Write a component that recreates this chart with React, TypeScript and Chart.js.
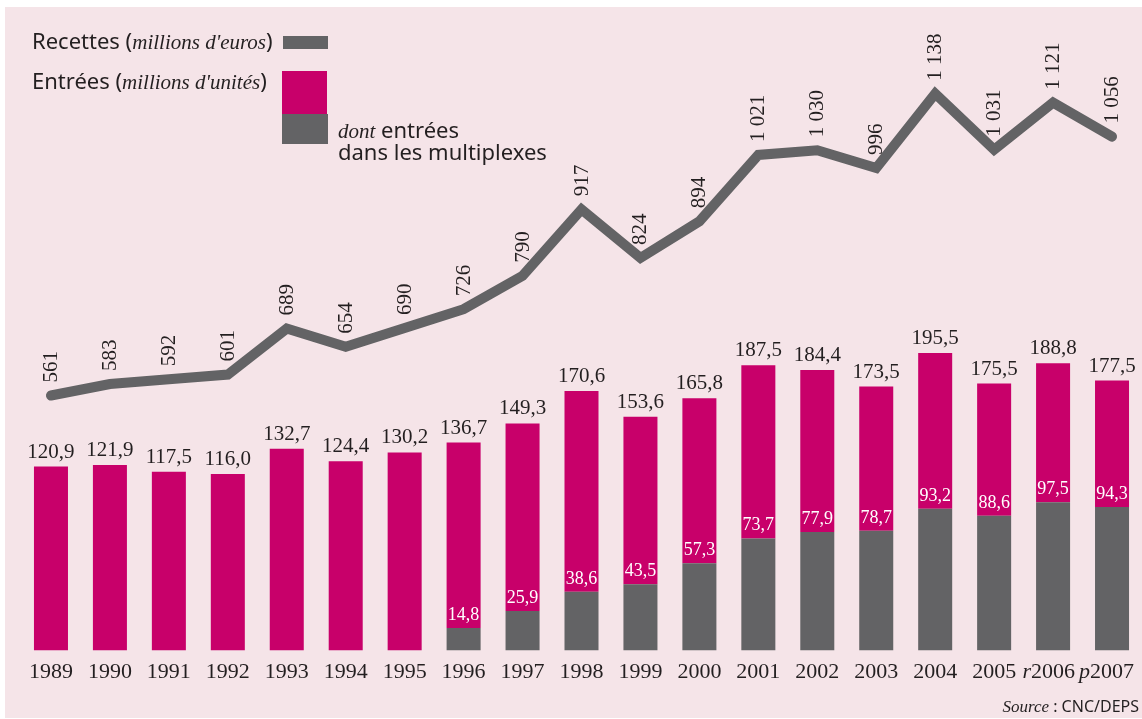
import React, { useEffect, useRef } from "react";
import { Chart, registerables } from "chart.js";

Chart.register(...registerables);

const years = ["1989","1990","1991","1992","1993","1994","1995","1996","1997","1998","1999","2000","2001","2002","2003","2004","2005","2006","2007"];
const yearPrefixes = ["","","","","","","","","","","","","","","","","","r","p"];
const recettes = [561,583,592,601,689,654,690,726,790,917,824,894,1021,1030,996,1138,1031,1121,1056];
const entrees = [120.9,121.9,117.5,116.0,132.7,124.4,130.2,136.7,149.3,170.6,153.6,165.8,187.5,184.4,173.5,195.5,175.5,188.8,177.5];
const multiplexes = [null,null,null,null,null,null,null,14.8,25.9,38.6,43.5,57.3,73.7,77.9,78.7,93.2,88.6,97.5,94.3];

// pink part shown above the multiplex part (stacked)
const entreesHors = entrees.map((v, i) => +(v - (multiplexes[i] ?? 0)).toFixed(1));

const PINK = "#c8006a";
const GRAY = "#636365";
const BG = "#f5e4e8";
const TEXT = "#231f20";
const SERIF = '"Liberation Serif", serif';
const SANS = '"Noto Sans", sans-serif';

const fmtDec = (v: number) => v.toFixed(1).replace(".", ",");
const fmtInt = (v: number) => {
  const s = String(v);
  return s.length > 3 ? s.slice(0, s.length - 3) + " " + s.slice(-3) : s;
};

const drawPlugin = {
  id: "custom",
  beforeDraw(chart: any) {
    const ctx = chart.ctx;
    ctx.save();
    ctx.fillStyle = "#ffffff";
    ctx.fillRect(0, 0, chart.width, chart.height);
    ctx.fillStyle = BG;
    ctx.fillRect(5, 7, chart.width - 5, 711);
    ctx.restore();
  },
  afterDraw(chart: any) {
    const ctx = chart.ctx;
    const xs = chart.scales.x;
    const ys = chart.scales.y;
    const y2 = chart.scales.y2;
    ctx.save();
    // x labels
    for (let i = 0; i < years.length; i++) {
      const x = xs.getPixelForValue(i);
      ctx.font = `22px ${SERIF}`;
      ctx.fillStyle = TEXT;
      ctx.textBaseline = "alphabetic";
      ctx.textAlign = "center";
      ctx.fillText(years[i], x, 678);
      if (yearPrefixes[i]) {
        const w = ctx.measureText(years[i]).width;
        ctx.font = `italic 22px ${SERIF}`;
        ctx.textAlign = "right";
        ctx.fillText(yearPrefixes[i], x - w / 2, 678);
      }
    }
    // bar totals
    ctx.textAlign = "center";
    for (let i = 0; i < entrees.length; i++) {
      const x = xs.getPixelForValue(i);
      ctx.font = `21px ${SERIF}`;
      ctx.fillStyle = TEXT;
      ctx.fillText(fmtDec(entrees[i]), x, ys.getPixelForValue(entrees[i]) - 9);
      const m = multiplexes[i];
      if (m != null) {
        ctx.font = `18px ${SERIF}`;
        ctx.fillStyle = "#ffffff";
        ctx.fillText(fmtDec(m), x, ys.getPixelForValue(m) - 8);
      }
    }
    // line labels
    for (let i = 0; i < recettes.length; i++) {
      const x = xs.getPixelForValue(i);
      const y = y2.getPixelForValue(recettes[i]);
      ctx.save();
      ctx.translate(x + 6, y - 13);
      ctx.rotate(-Math.PI / 2);
      ctx.font = `21px ${SERIF}`;
      ctx.fillStyle = TEXT;
      ctx.textAlign = "left";
      ctx.textBaseline = "alphabetic";
      ctx.fillText(fmtInt(recettes[i]), 0, 0);
      ctx.restore();
    }
    // legend
    const seg = (parts: [string, string][], x: number, y: number, align: "left" | "right") => {
      ctx.textAlign = "left";
      ctx.textBaseline = "alphabetic";
      ctx.fillStyle = TEXT;
      let total = 0;
      for (const [f, t] of parts) { ctx.font = f; total += ctx.measureText(t).width; }
      let cx = align === "left" ? x : x - total;
      for (const [f, t] of parts) { ctx.font = f; ctx.fillText(t, cx, y); cx += ctx.measureText(t).width; }
    };
    const sans = `22px ${SANS}`;
    const ital = `italic 21px ${SERIF}`;
    seg([[sans, "Recettes ("], [ital, "millions d'euros"], [sans, ")"]], 32, 49, "left");
    seg([[sans, "Entrées ("], [ital, "millions d'unités"], [sans, ")"]], 32, 89, "left");
    seg([[ital, "dont"], [sans, " entrées"]], 338, 138, "left");
    seg([[sans, "dans les multiplexes"]], 338, 160, "left");
    ctx.fillStyle = GRAY;
    ctx.fillRect(283, 36, 45, 13);
    ctx.fillStyle = PINK;
    ctx.fillRect(282, 71, 45, 43);
    ctx.fillStyle = GRAY;
    ctx.fillRect(282, 114, 46, 30);
    // source
    seg([[`italic 17px ${SERIF}`, "Source"], [`16px ${SANS}`, " : CNC/DEPS"]], 1139, 712, "right");
    ctx.restore();
  },
};

export default function App() {
  const ref = useRef<HTMLCanvasElement | null>(null);
  useEffect(() => {
    if (!ref.current) return;
    const chart = new Chart(ref.current, {
      type: "bar",
      data: {
        labels: years,
        datasets: [
          {
            type: "line",
            label: "Recettes",
            data: recettes,
            yAxisID: "y2",
            borderColor: GRAY,
            borderWidth: 10,
            borderCapStyle: "round",
            borderJoinStyle: "miter",
            pointRadius: 0,
            tension: 0,
            order: 0,
            stack: "line",
          } as any,
          {
            type: "bar",
            label: "dont entrées dans les multiplexes",
            data: multiplexes,
            yAxisID: "y",
            backgroundColor: GRAY,
            barPercentage: 0.577,
            categoryPercentage: 1,
            order: 1,
            stack: "bars",
          },
          {
            type: "bar",
            label: "Entrées",
            data: entreesHors,
            yAxisID: "y",
            backgroundColor: PINK,
            barPercentage: 0.577,
            categoryPercentage: 1,
            order: 2,
            stack: "bars",
          },
        ],
      },
      options: {
        animation: false,
        responsive: true,
        maintainAspectRatio: false,
        layout: { padding: { left: 21.5, right: 0.5, top: 20, bottom: 68.5 } },
        plugins: { legend: { display: false }, tooltip: { enabled: false } },
        scales: {
          x: { display: false, stacked: true, offset: true, grid: { display: false } },
          y: { display: false, stacked: true, min: 0, max: 414.5 },
          y2: { display: false, stacked: false, min: 73.4, max: 1279 },
        },
      },
      plugins: [drawPlugin],
    });
    return () => chart.destroy();
  }, []);
  return (
    <div style={{ position: "fixed", left: 0, top: 0, width: 1142, height: 719 }}>
      <canvas ref={ref} />
    </div>
  );
}
